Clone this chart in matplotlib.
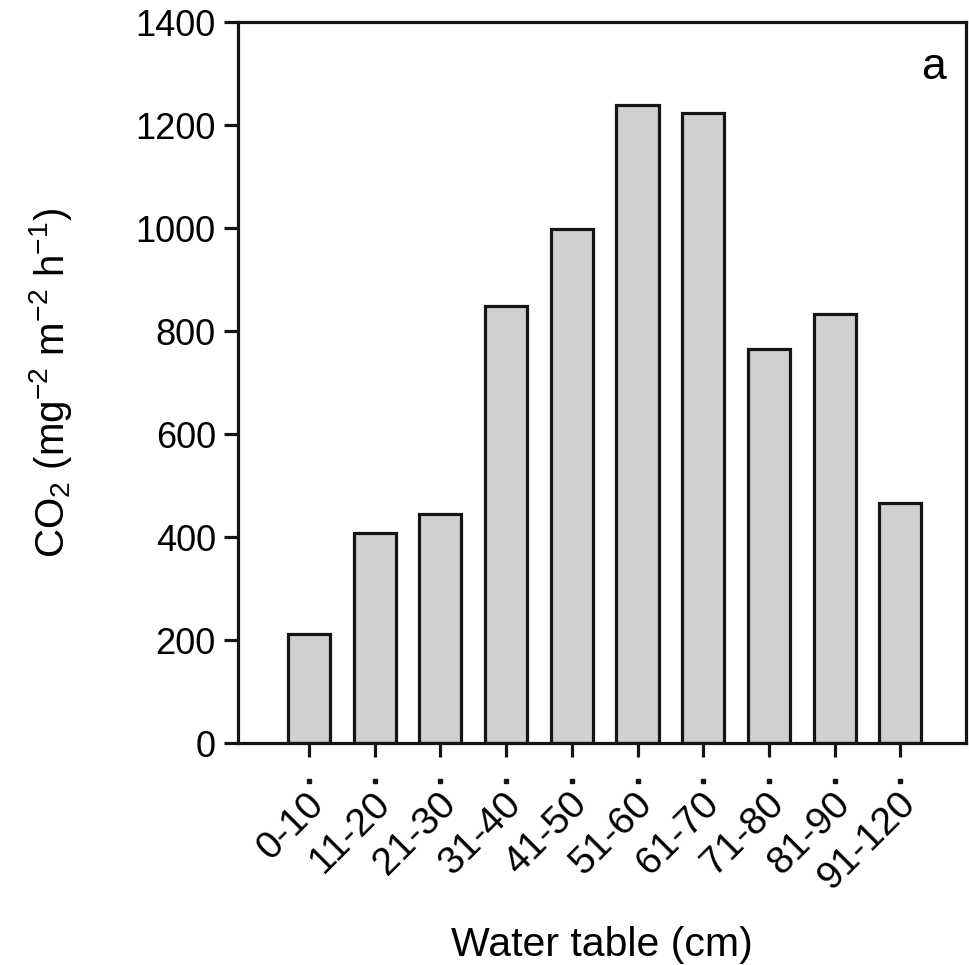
import matplotlib
matplotlib.use('Agg')
import matplotlib.pyplot as plt
import matplotlib.transforms as mtransforms
import numpy as np

# datos
categorias = ['0-10', '11-20', '21-30', '31-40', '41-50', '51-60',
              '61-70', '71-80', '81-90', '91-120']
co2 = [212, 408, 445, 849, 998, 1239, 1223, 765, 833, 466]
yticks = [0, 200, 400, 600, 800, 1000, 1200, 1400]

plt.rcParams['font.family'] = ['Liberation Sans', 'DejaVu Sans']
plt.rcParams['mathtext.fontset'] = 'custom'
plt.rcParams['mathtext.rm'] = 'Liberation Sans'
plt.rcParams['mathtext.it'] = 'Liberation Sans'

fig = plt.figure(figsize=(9.69, 9.65), dpi=100)
ax = fig.add_axes([0.2456, 0.230, 0.7514, 0.747])

x = np.arange(len(categorias))
ax.bar(x, co2, width=0.64, color='#d0d0d0', edgecolor='#151515', linewidth=2.3, zorder=2)

ax.set_xlim(-1.08, 10.0)
ax.set_ylim(0, 1400)
ax.set_yticks(yticks)
ax.set_xticks(x)
ax.set_xticklabels([])

for s in ax.spines.values():
    s.set_linewidth(2.3)
    s.set_color('#151515')

ax.tick_params('both', direction='out', width=2.3, length=10, color='#151515')
ax.tick_params('y', pad=6, labelsize=26)

# etiquetas del eje x giradas, algo desplazadas a la derecha
trans = mtransforms.blended_transform_factory(ax.transData, ax.transAxes)
desp = mtransforms.ScaledTranslation(7 / 72, -40 / 72, fig.dpi_scale_trans)
for xi, lab in zip(x, categorias):
    ax.text(xi, 0, lab, transform=trans + desp, rotation=45, ha='right', va='center',
            rotation_mode='anchor', fontsize=28)

# puntitos bajo cada marca del eje x
ax.plot(x, [-0.052] * len(x), 's', ms=2.5, color='#151515', transform=trans, clip_on=False)

ax.set_xlabel('Water table (cm)', fontsize=29.5, labelpad=118)
ax.set_ylabel('CO$_2$ (mg$^{-2}$ m$^{-2}$ h$^{-1}$)', fontsize=29, labelpad=44)

ax.text(0.972, 0.965, 'a', transform=ax.transAxes, fontsize=32, ha='right', va='top')

fig.savefig('out.png', dpi=100)
